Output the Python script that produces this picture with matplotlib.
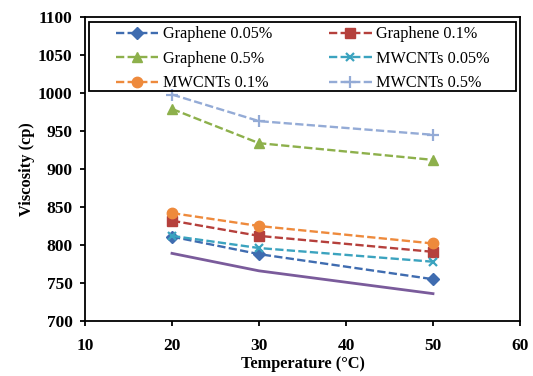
import matplotlib
matplotlib.use("Agg")
import matplotlib.pyplot as plt
from matplotlib.patches import Rectangle

temps = [20, 30, 50]
graphene_005 = [811, 788, 755]
graphene_01 = [832, 812, 791]
graphene_05 = [979, 934, 912]
mwcnt_005 = [812, 796, 778]
mwcnt_01 = [842, 825, 802]
mwcnt_05 = [998, 963, 945]
base_fluid = [789, 766, 736]

plt.rcParams['font.family'] = ['Liberation Serif', 'DejaVu Serif']

W, H = 533, 376
fig = plt.figure(figsize=(W / 100, H / 100), dpi=100)
ax = fig.add_axes([85 / W, 1 - 321 / H, 435 / W, 304 / H])

series = [
    ('Graphene 0.05%', graphene_005, '#3F6CB0', 'D', 6),
    ('Graphene 0.1%', graphene_01, '#B5403C', 's', 6.5),
    ('Graphene 0.5%', graphene_05, '#8DB04B', '^', 7.5),
    ('MWCNTs 0.05%', mwcnt_005, '#3BA3BF', 'x', 6),
    ('MWCNTs 0.1%', mwcnt_01, '#EE8A3C', 'o', 7.5),
    ('MWCNTs 0.5%', mwcnt_05, '#94ABD6', '+', 8),
]

lines = []
for label, vals, color, marker, ms in series:
    ln, = ax.plot(temps, vals, linestyle=(0, (3.5, 1.4)), linewidth=1.7, color=color,
                  marker=marker, markersize=ms, markeredgewidth=1.6 if marker in 'x+' else 1,
                  markeredgecolor=color, label=label)
    lines.append(ln)

ax.plot(temps, base_fluid, color='#7A5B9B', linewidth=2)

ax.set_xlim(10, 60)
ax.set_ylim(700, 1100)
ax.set_xticks(range(10, 61, 10))
ax.set_yticks(range(700, 1101, 50))
for lab in ax.get_xticklabels() + ax.get_yticklabels():
    lab.set_fontweight('bold')
    lab.set_fontsize(12.5)
ax.tick_params(direction='out', length=3.5, width=1.3)
ax.tick_params(axis='x', pad=8.5)
ax.tick_params(axis='y', pad=5.5)
for s in ax.spines.values():
    s.set_linewidth(1.3)

ax.set_xlabel('Temperature (°C)', fontweight='bold', fontsize=11.8, labelpad=1.5)
ax.set_ylabel('Viscosity (cp)', fontweight='bold', fontsize=11.8, labelpad=2)

# row-wise order like the original (matplotlib fills legends column-wise)
order = [0, 2, 4, 1, 3, 5]
leg = fig.legend([lines[i] for i in order], [series[i][0] for i in order],
                 ncol=2, loc='upper left', bbox_to_anchor=(116 / W, 1 - 26.5 / H),
                 fontsize=11.7, frameon=False, handlelength=2.6, handletextpad=0.3,
                 borderpad=0, borderaxespad=0, labelspacing=0.52, columnspacing=3.5)
fig.add_artist(Rectangle((89 / W, 1 - 91 / H), (516 - 89) / W, (91 - 22) / H,
                         transform=fig.transFigure, fill=False, edgecolor='black',
                         linewidth=1.3))

fig.savefig('out.png', dpi=100)
